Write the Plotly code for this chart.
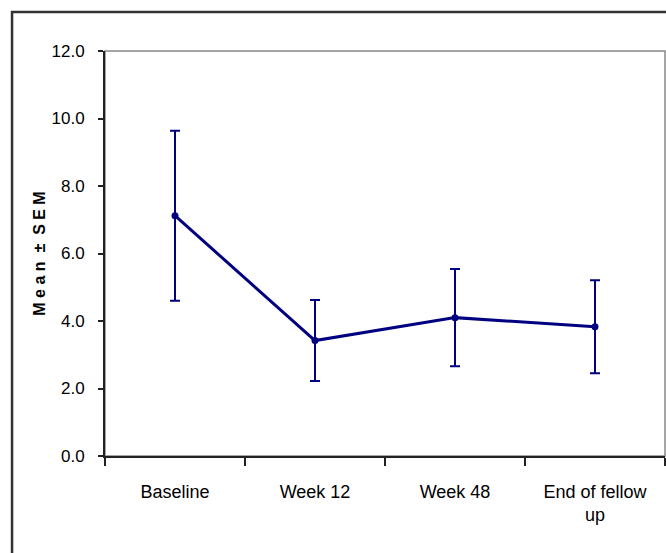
import plotly.graph_objects as go

categories = ["Baseline", "Week 12", "Week 48", "End of fellow<br>up"]
means = [7.12, 3.42, 4.10, 3.83]
sem = [2.52, 1.20, 1.44, 1.38]
y_ticks = [0, 2, 4, 6, 8, 10, 12]

FONT = "Liberation Sans, Arial, sans-serif"
NAVY = "#000080"

fig = go.Figure()
fig.add_trace(go.Scatter(
    x=categories, y=means,
    mode="lines+markers",
    line=dict(color=NAVY, width=3),
    marker=dict(color=NAVY, size=7),
    error_y=dict(type="data", array=sem, visible=True, color=NAVY, thickness=2, width=5),
    showlegend=False,
))

fig.update_layout(
    width=666, height=553,
    margin=dict(l=105, r=1, t=51, b=97),
    paper_bgcolor="white", plot_bgcolor="white",
    font=dict(family=FONT, size=18, color="black"),
    xaxis=dict(
        type="category", range=[-0.5, 3.5], tickson="boundaries",
        ticks="outside", ticklen=8, tickwidth=2, tickcolor="#222",
        showline=True, linecolor="#222", linewidth=2,
        showgrid=False, zeroline=False,
        ticklabelstandoff=18,
        tickfont=dict(family=FONT, size=18),
    ),
    yaxis=dict(
        range=[0, 12], tickvals=y_ticks, tickformat=".1f",
        ticks="outside", ticklen=5, tickwidth=2, tickcolor="#222",
        showline=True, linecolor="#222", linewidth=2,
        showgrid=False, zeroline=False,
        ticklabelstandoff=10,
        tickfont=dict(family=FONT, size=17),
        title=dict(text="M e a n  ±  S E M", font=dict(family=FONT, size=16, weight="bold"), standoff=2),
    ),
    shapes=[
        dict(type="rect", xref="paper", yref="paper", x0=0, y0=0, x1=1, y1=1,
             line=dict(color="#888", width=1.5), layer="below"),
        dict(type="rect", xref="paper", yref="paper", x0=-0.166, y0=-0.4, x1=1.2, y1=1.0963,
             line=dict(color="#333", width=2.5), layer="below"),
    ],
)

fig.write_html("out.html")
